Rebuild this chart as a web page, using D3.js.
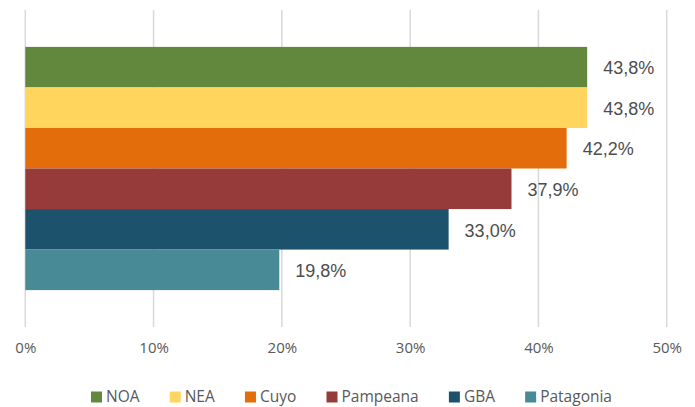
<!DOCTYPE html>
<html>
<head>
<meta charset="utf-8">
<script src="https://cdn.jsdelivr.net/npm/d3@7"></script>
<style>
  body { margin: 0; background: #fff; }
  svg { display: block; }
</style>
</head>
<body>
<svg id="chart"></svg>
<script>
const width = 695;
const height = 407;

// data
const regions = ["NOA", "NEA", "Cuyo", "Pampeana", "GBA", "Patagonia"];
const values = [0.438, 0.438, 0.422, 0.379, 0.330, 0.198];
const colors = ["#62883d", "#ffd55e", "#e36c0b", "#963a3a", "#1d526d", "#488a96"];
const ticks = [0, 0.1, 0.2, 0.3, 0.4, 0.5];

const data = regions.map((r, i) => ({ region: r, value: values[i], color: colors[i] }));

const margin = { top: 10, right: 28, bottom: 80, left: 25 };

const svg = d3.select("#chart")
    .attr("width", width)
    .attr("height", height);

const x = d3.scaleLinear()
    .domain([0, 0.5])
    .range([margin.left + 0.3, width - margin.right - 0.3]);

const y = d3.scaleBand()
    .domain(regions)
    .range([margin.top, height - margin.bottom])
    .paddingInner(0)
    .paddingOuter(0.91);

const fmtPct = d3.format(".1f");

// gridlines
svg.append("g")
    .selectAll("line")
    .data(ticks)
    .enter()
    .append("line")
    .attr("x1", d => x(d))
    .attr("x2", d => x(d))
    .attr("y1", margin.top)
    .attr("y2", height - margin.bottom)
    .attr("stroke", "#d9d9d9")
    .attr("stroke-width", 1.5);

// bars
svg.append("g")
    .selectAll("rect")
    .data(data)
    .enter()
    .append("rect")
    .attr("x", x(0))
    .attr("y", d => y(d.region))
    .attr("width", d => x(d.value) - x(0))
    .attr("height", y.bandwidth())
    .attr("fill", d => d.color);

// value labels
svg.append("g")
    .selectAll("text")
    .data(data)
    .enter()
    .append("text")
    .attr("x", d => x(d.value) + 16)
    .attr("y", d => y(d.region) + y.bandwidth() / 2 + 2.5)
    .attr("dominant-baseline", "middle")
    .style("font-family", "'Liberation Sans', Arial, sans-serif")
    .style("font-size", "18px")
    .attr("fill", "#4d4d4d")
    .text(d => fmtPct(d.value * 100).replace(".", ",") + "%");

// x axis labels
const xAxis = d3.axisBottom(x)
    .tickValues(ticks)
    .tickSize(0)
    .tickPadding(0)
    .tickFormat(d => Math.round(d * 100) + "%");

svg.append("g")
    .attr("transform", `translate(0,${342})`)
    .call(xAxis)
    .call(g => g.select(".domain").remove())
    .selectAll("text")
    .style("font-family", "'Open Sans', Lato, sans-serif")
    .style("font-size", "15px")
    .attr("fill", "#595959");

// legend
const legend = svg.append("g");
const items = legend.selectAll("g")
    .data(data)
    .enter()
    .append("g");

items.append("rect")
    .attr("width", 11)
    .attr("height", 11)
    .attr("y", -5.5)
    .attr("fill", d => d.color);

items.append("text")
    .attr("x", 15)
    .attr("dominant-baseline", "middle")
    .attr("y", 1)
    .style("font-family", "'Open Sans', Lato, sans-serif")
    .style("font-size", "15.5px")
    .attr("fill", "#595959")
    .text(d => d.region);

const legendLeft = 91;
const legendRight = 612;
const widths = [];
items.each(function () {
    widths.push(15 + this.querySelector("text").getComputedTextLength());
});
const gap = (legendRight - legendLeft - d3.sum(widths)) / (widths.length - 1);
const positions = widths.map((w, i) => legendLeft + d3.sum(widths.slice(0, i)) + gap * i);
items.attr("transform", (d, i) => `translate(${positions[i]},${397})`);
</script>
</body>
</html>
